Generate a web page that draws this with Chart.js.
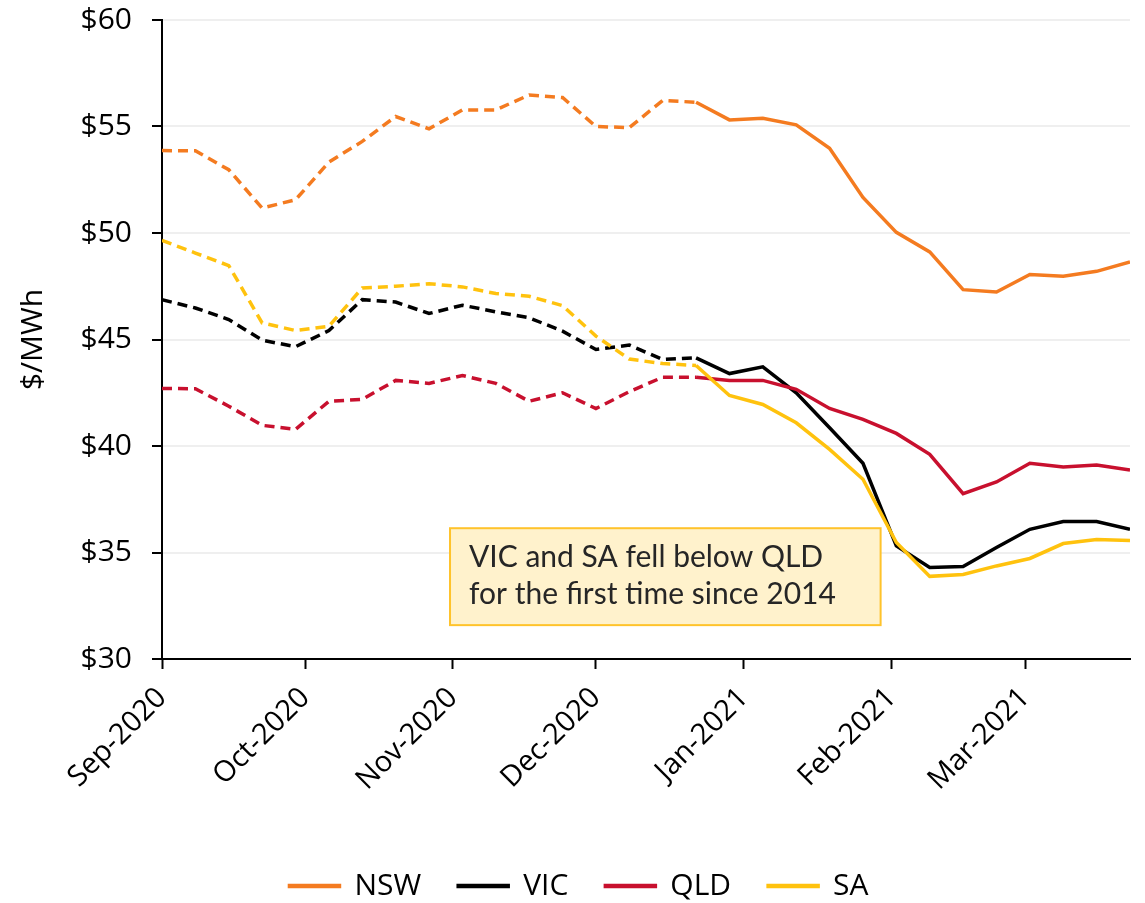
<!DOCTYPE html>
<html>
<head>
<meta charset="utf-8">
<script src="https://cdn.jsdelivr.net/npm/chart.js@4"></script>
<style>
  html, body { margin: 0; padding: 0; background: #fff; }
  #wrap { width: 1145px; height: 903px; }
</style>
</head>
<body>
<div id="wrap"><canvas id="myChart"></canvas></div>
<script>
// weekly observations
const weeks = ['2020-09-01', '2020-09-08', '2020-09-15', '2020-09-22', '2020-09-29',
  '2020-10-06', '2020-10-13', '2020-10-20', '2020-10-27', '2020-11-03',
  '2020-11-10', '2020-11-17', '2020-11-24', '2020-12-01', '2020-12-08',
  '2020-12-15', '2020-12-22', '2020-12-29', '2021-01-05', '2021-01-12',
  '2021-01-19', '2021-01-26', '2021-02-02', '2021-02-09', '2021-02-16',
  '2021-02-23', '2021-03-02', '2021-03-09', '2021-03-16', '2021-03-23'];

const nsw = [53.87, 53.86, 52.97, 51.17, 51.56, 53.33, 54.3, 55.47, 54.89, 55.78,
  55.78, 56.48, 56.36, 55.0, 54.95, 56.22, 56.14, 55.31, 55.39, 55.08,
  53.98, 51.67, 50.03, 49.11, 47.34, 47.23, 48.05, 47.97, 48.2, 48.64];
const vic = [46.87, 46.48, 45.94, 44.97, 44.66, 45.42, 46.87, 46.76, 46.22, 46.61,
  46.3, 46.02, 45.39, 44.53, 44.74, 44.06, 44.14, 43.4, 43.72, 42.5,
  40.86, 39.19, 35.31, 34.3, 34.34, 35.23, 36.09, 36.45, 36.45, 36.09];
const qld = [42.7, 42.69, 41.87, 40.97, 40.78, 42.1, 42.19, 43.08, 42.94, 43.31,
  42.94, 42.1, 42.5, 41.76, 42.55, 43.23, 43.23, 43.08, 43.08, 42.66,
  41.76, 41.25, 40.59, 39.61, 37.76, 38.31, 39.19, 39.02, 39.11, 38.87];
const sa = [49.65, 49.06, 48.47, 45.78, 45.42, 45.62, 47.42, 47.5, 47.62, 47.47,
  47.16, 47.03, 46.59, 45.16, 44.08, 43.87, 43.78, 42.37, 41.95, 41.09,
  39.84, 38.44, 35.47, 33.88, 33.97, 34.37, 34.72, 35.42, 35.61, 35.56];

// month ticks
const monthDates = ['2020-09-01', '2020-10-01', '2020-11-01', '2020-12-01',
  '2021-01-01', '2021-02-01', '2021-03-01'];
const monthLabels = ['Sep-2020', 'Oct-2020', 'Nov-2020', 'Dec-2020',
  'Jan-2021', 'Feb-2021', 'Mar-2021'];

const lastActualWeek = '2020-12-22'; // dashed up to here
const yTicks = [30, 35, 40, 45, 50, 55, 60];

const base = Date.parse(weeks[0]);
const toDay = d => Math.round((Date.parse(d) - base) / 86400000);
const monthDays = monthDates.map(toDay);
const cutDay = toDay(lastActualWeek);

const font = "'Open Sans'";
const dash = [10, 6];

function series(label, values, color, order) {
  return {
    label: label,
    data: values.map((v, i) => ({ x: toDay(weeks[i]), y: v })),
    borderColor: color,
    backgroundColor: color,
    borderWidth: 3.5,
    pointRadius: 0,
    pointHoverRadius: 0,
    tension: 0,
    fill: false,
    order: order,
    segment: {
      borderDash: c => c.p1.parsed.x <= cutDay ? dash : undefined
    }
  };
}

const noteBox = {
  id: 'noteBox',
  afterDatasetsDraw(chart) {
    const { ctx } = chart;
    const x = chart.scales.x, y = chart.scales.y;
    const left = x.getPixelForValue(60.4), right = x.getPixelForValue(150.7);
    const top = y.getPixelForValue(36.14), bottom = y.getPixelForValue(31.59);
    ctx.save();
    ctx.fillStyle = '#FFF2CC';
    ctx.strokeStyle = '#FFC32B';
    ctx.lineWidth = 2;
    ctx.fillRect(left, top, right - left, bottom - top);
    ctx.strokeRect(left, top, right - left, bottom - top);
    ctx.fillStyle = '#262626';
    ctx.font = '30px Lato';
    ctx.textBaseline = 'alphabetic';
    ctx.fillText('VIC and SA fell below QLD', left + 19, top + 39);
    ctx.fillText('for the first time since 2014', left + 19, top + 76);
    ctx.restore();
  }
};

const ctx = document.getElementById('myChart');

new Chart(ctx, {
  type: 'line',
  data: {
    datasets: [
      series('NSW', nsw, '#F47B20', 4),
      series('VIC', vic, '#000000', 3),
      series('QLD', qld, '#C8102E', 2),
      series('SA', sa, '#FFC20E', 1)
    ]
  },
  options: {
    responsive: true,
    maintainAspectRatio: false,
    animation: false,
    layout: { padding: { top: 20, right: 15, bottom: -8, left: 28 } },
    plugins: {
      tooltip: { enabled: false },
      legend: {
        position: 'bottom',
        labels: {
          font: { family: font, size: 30 },
          color: '#000',
          boxWidth: 50,
          boxHeight: 1,
          padding: 37,
          sort: (a, b) => a.datasetIndex - b.datasetIndex
        }
      }
    },
    scales: {
      x: {
        type: 'linear',
        min: 0,
        max: toDay(weeks[weeks.length - 1]),
        afterBuildTicks: s => { s.ticks = monthDays.map(v => ({ value: v })); },
        afterFit: s => { s.height = 175; },
        ticks: {
          autoSkip: false,
          minRotation: 45,
          maxRotation: 45,
          padding: 12,
          color: '#000',
          font: { family: font, size: 29 },
          callback: v => monthLabels[monthDays.indexOf(v)]
        },
        grid: {
          drawOnChartArea: false,
          tickLength: 10,
          tickColor: '#000',
          tickWidth: 2
        },
        border: { color: '#000', width: 2 }
      },
      y: {
        min: 30,
        max: 60,
        afterBuildTicks: s => { s.ticks = yTicks.map(v => ({ value: v })); },
        afterFit: s => { s.width = 134; s.paddingTop = 0; s.paddingBottom = 0; },
        ticks: {
          padding: 20,
          color: '#000',
          font: { family: font, size: 30 },
          callback: v => '$' + v
        },
        grid: {
          color: '#EFEFEF',
          lineWidth: 2,
          tickLength: 10,
          tickColor: '#000',
          tickWidth: 2
        },
        border: { color: '#000', width: 2 },
        title: {
          display: true,
          text: '$/MWh',
          color: '#000',
          font: { family: font, size: 30 },
          padding: { top: -13, bottom: 0 }
        }
      }
    }
  },
  plugins: [noteBox]
});
</script>
</body>
</html>
